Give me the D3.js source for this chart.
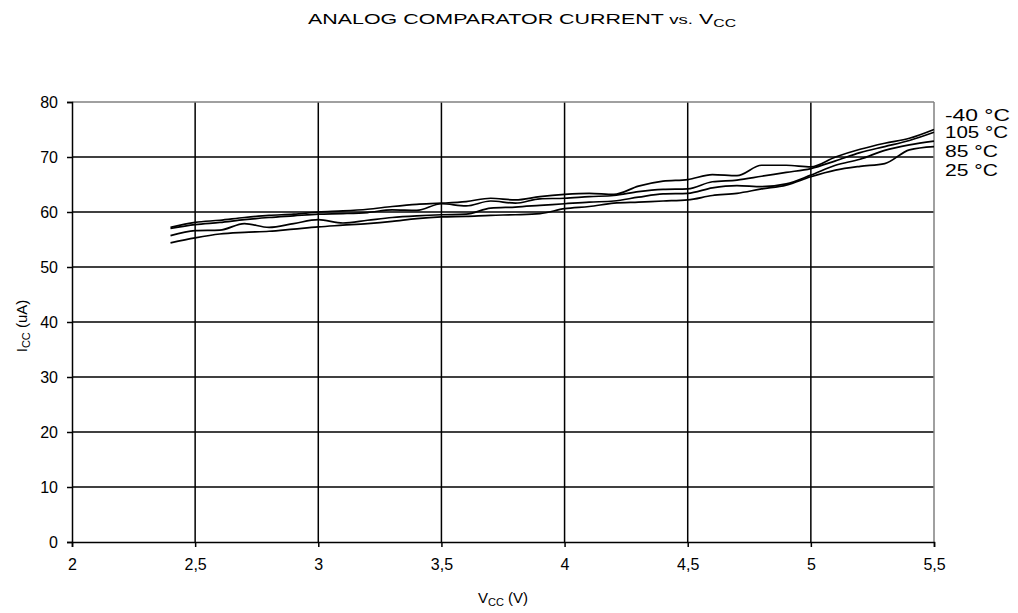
<!DOCTYPE html>
<html>
<head>
<meta charset="utf-8">
<script src="https://cdn.jsdelivr.net/npm/d3@7"></script>
<style>
  body { margin: 0; background: #fff; }
  text { font-family: "Liberation Sans", Arial, sans-serif; fill: #000; }
</style>
</head>
<body>
<div id="chart"></div>
<script>
// supply voltage (V)
var vcc = [2.4, 2.5, 2.6, 2.7, 2.8, 2.9, 3.0, 3.1, 3.2, 3.3, 3.4, 3.5, 3.6, 3.7, 3.8, 3.9,
           4.0, 4.1, 4.2, 4.3, 4.4, 4.5, 4.6, 4.7, 4.8, 4.9, 5.0, 5.1, 5.2, 5.3, 5.4, 5.5]

// current (uA) per temperature
var iccM40 = [57.2, 58.1, 58.5, 59.0, 59.4, 59.6, 60.0, 60.2, 60.5, 61.0, 61.4, 61.6, 61.9, 62.5, 62.2, 62.8,
              63.2, 63.4, 63.2, 64.7, 65.6, 65.9, 66.8, 66.6, 68.5, 68.5, 68.2, 70.0, 71.4, 72.5, 73.4, 75.0]
var icc105 = [57.0, 57.7, 58.1, 58.6, 59.0, 59.3, 59.6, 59.7, 59.9, 60.4, 60.3, 61.5, 61.1, 62.0, 61.6, 62.4,
              62.5, 62.8, 63.0, 63.7, 64.1, 64.2, 65.5, 65.8, 66.5, 67.2, 67.9, 69.3, 70.8, 71.9, 73.0, 74.5]
var icc85 = [55.7, 56.6, 56.7, 57.9, 57.2, 57.9, 58.6, 58.0, 58.5, 59.0, 59.3, 59.5, 59.6, 60.7, 60.9, 61.2,
             61.5, 61.8, 62.0, 62.7, 63.3, 63.4, 64.4, 64.8, 64.6, 65.1, 66.7, 68.5, 69.6, 71.2, 72.2, 72.9]
var icc25 = [54.4, 55.3, 56.0, 56.3, 56.5, 56.9, 57.3, 57.6, 57.9, 58.3, 58.8, 59.1, 59.2, 59.4, 59.5, 59.7,
             60.6, 61.0, 61.6, 61.8, 62.0, 62.2, 63.0, 63.4, 64.2, 64.9, 66.4, 67.6, 68.3, 68.8, 71.3, 71.9]

var seriesNames = ["-40 °C", "105 °C", "85 °C", "25 °C"]
var seriesValues = [iccM40, icc105, icc85, icc25]

var xTicks = [2, 2.5, 3, 3.5, 4, 4.5, 5, 5.5]
var yTicks = [0, 10, 20, 30, 40, 50, 60, 70, 80]

// set the dimensions and margins of the graph
var width = 1018
var height = 613
var margin = { top: 102, left: 72, right: 84, bottom: 71 }

var svg = d3.select("#chart")
    .append("svg")
    .attr("width", width)
    .attr("height", height)

var x = d3.scaleLinear()
    .domain([2, 5.5])
    .range([margin.left, width - margin.right])

var y = d3.scaleLinear()
    .domain([0, 80])
    .range([height - margin.bottom, margin.top])

// grid lines
svg.append("g")
    .selectAll("line")
    .data(yTicks.filter(function(d) { return d > 0 && d < 80 }))
    .enter()
    .append("line")
    .attr("x1", x(2)).attr("x2", x(5.5))
    .attr("y1", function(d) { return y(d) }).attr("y2", function(d) { return y(d) })
    .style("stroke", "#000").style("stroke-width", 1.5)

svg.append("g")
    .selectAll("line")
    .data(xTicks.filter(function(d) { return d > 2 && d < 5.5 }))
    .enter()
    .append("line")
    .attr("y1", y(0)).attr("y2", y(80))
    .attr("x1", function(d) { return x(d) }).attr("x2", function(d) { return x(d) })
    .style("stroke", "#000").style("stroke-width", 1.5)

// gray frame on top and right
svg.append("line")
    .attr("x1", x(2)).attr("x2", x(5.5)).attr("y1", y(80)).attr("y2", y(80))
    .style("stroke", "#808080").style("stroke-width", 1.5)
svg.append("line")
    .attr("x1", x(5.5)).attr("x2", x(5.5)).attr("y1", y(80)).attr("y2", y(0))
    .style("stroke", "#808080").style("stroke-width", 1.5)

// axes
svg.append("g")
    .attr("transform", "translate(0," + y(0) + ")")
    .call(d3.axisBottom(x).tickValues(xTicks).tickSize(5).tickPadding(12)
        .tickFormat(function(d) { return String(d).replace(".", ",") }))
svg.append("g")
    .attr("transform", "translate(" + x(2) + ",0)")
    .call(d3.axisLeft(y).tickValues(yTicks).tickSize(5).tickPadding(9))

svg.selectAll(".domain").style("stroke", "#000").style("stroke-width", 1.5)
svg.selectAll(".tick line").style("stroke", "#000").style("stroke-width", 1.5)
svg.selectAll(".tick text").style("font-size", "16px").style("font-family", "Liberation Sans, Arial, sans-serif")

// curves
var line = d3.line()
    .x(function(d, i) { return x(vcc[i]) })
    .y(function(d) { return y(d) })
    .curve(d3.curveMonotoneX)

svg.append("g")
    .selectAll("path")
    .data(seriesValues)
    .enter()
    .append("path")
    .attr("d", line)
    .style("fill", "none")
    .style("stroke", "#000")
    .style("stroke-width", 1.7)

// series labels at right
var labelY = [121, 138, 156.5, 176]
var labelW = [65, 63, 53, 53]
svg.append("g")
    .selectAll("text")
    .data(seriesNames)
    .enter()
    .append("text")
    .attr("x", 945)
    .attr("y", function(d, i) { return labelY[i] })
    .attr("textLength", function(d, i) { return labelW[i] })
    .attr("lengthAdjust", "spacingAndGlyphs")
    .style("font-size", "16.5px")
    .text(function(d) { return d })

// title
var title = svg.append("text")
    .attr("x", 308).attr("y", 24)
    .attr("textLength", 428)
    .attr("lengthAdjust", "spacingAndGlyphs")
    .style("font-size", "15px")
title.append("tspan").text("ANALOG COMPARATOR CURRENT ")
title.append("tspan").style("font-size", "13px").text("vs.")
title.append("tspan").text(" V")
title.append("tspan").attr("dy", 3).style("font-size", "11px").text("CC")

// axis titles
var xTitle = svg.append("text")
    .attr("x", 503).attr("y", 603)
    .attr("text-anchor", "middle")
    .style("font-size", "15px")
xTitle.append("tspan").text("V")
xTitle.append("tspan").attr("dy", 3).style("font-size", "11px").text("CC")
xTitle.append("tspan").attr("dy", -3).text(" (V)")

var yTitle = svg.append("text")
    .attr("transform", "translate(27,326) rotate(-90)")
    .attr("text-anchor", "middle")
    .style("font-size", "15px")
yTitle.append("tspan").text("I")
yTitle.append("tspan").attr("dy", 3).style("font-size", "11px").text("CC")
yTitle.append("tspan").attr("dy", -3).text(" (uA)")
</script>
</body>
</html>
